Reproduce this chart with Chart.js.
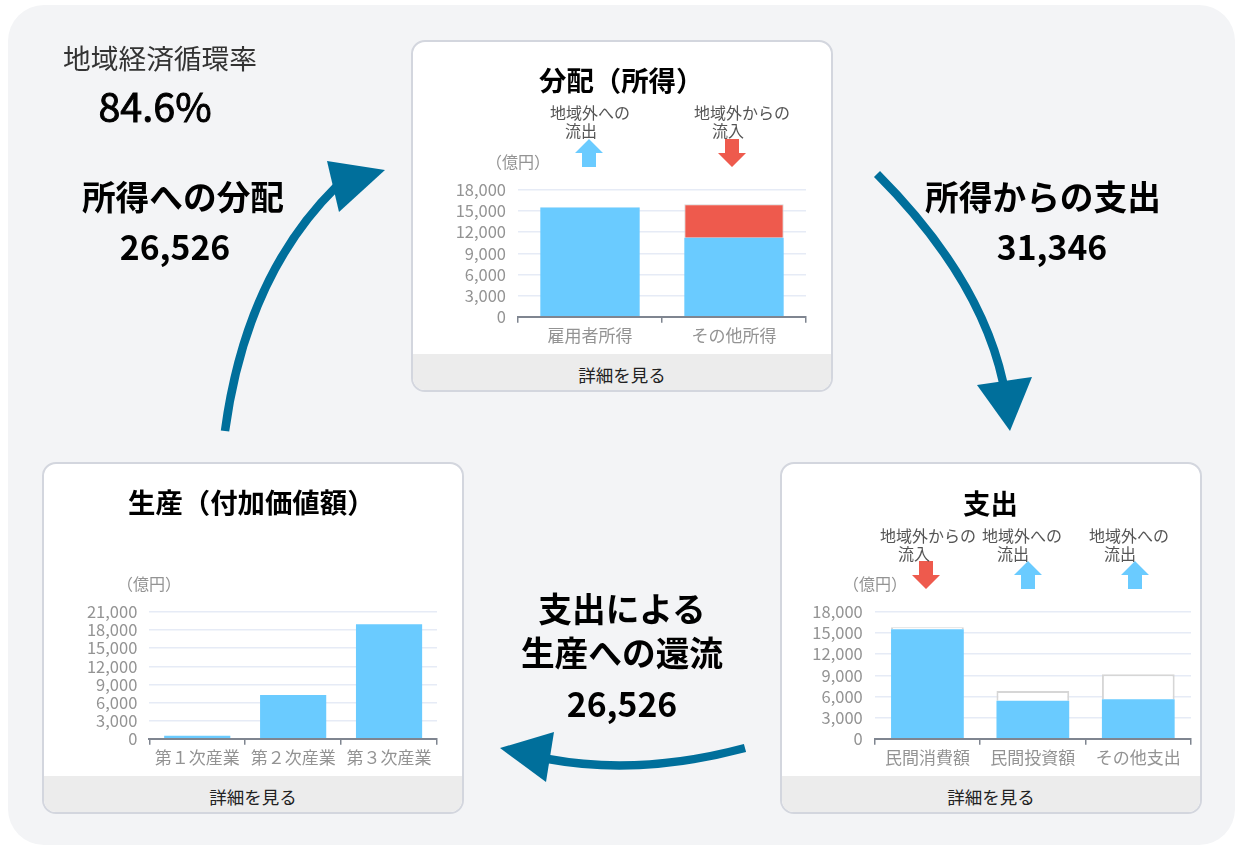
<!DOCTYPE html>
<html lang="ja">
<head>
    <meta charset="UTF-8">
    <title>地域経済循環</title>
    <script src="https://cdn.jsdelivr.net/npm/chart.js"></script>
    <style>
        body {
            margin: 0;
            width: 1235px;
            height: 845px;
            background: #fff;
            overflow: hidden;
            position: relative;
            font-family: "Noto Sans CJK JP", "Noto Sans", sans-serif;
        }
        .panel {
            position: absolute;
            left: 8px;
            top: 5px;
            width: 1227px;
            height: 840px;
            background: #f3f4f6;
            border-radius: 36px;
        }
        .card {
            position: absolute;
            box-sizing: border-box;
            background: #fff;
            border: 2.5px solid #d3d6de;
            border-radius: 14px;
            overflow: hidden;
        }
        .card .more {
            position: absolute;
            left: 0;
            right: 0;
            bottom: 0;
            height: 36px;
            background: #ececec;
            text-align: center;
            font-size: 17.5px;
            line-height: 41px;
            color: #222;
        }
        canvas { position: absolute; }
        svg { position: absolute; left: 0; top: 0; }
        .t {
            position: absolute;
            white-space: nowrap;
            line-height: 1;
            transform: translate(-50%, -50%);
        }
        .big { font-size: 33.7px; font-weight: 700; color: #000; }
        .title { font-size: 27.4px; font-weight: 700; color: #000; transform: translate(0, -50%); }
        .note { font-size: 16px; line-height: 17.5px; color: #555; transform: none; }
        .note span { display: block; }
        .unit { font-size: 16px; color: #939393; }
    </style>
</head>
<body>
    <div class="panel"></div>

    <div class="card" style="left:411px;top:40px;width:422px;height:352px"><div class="more">詳細を見る</div></div>
    <div class="card" style="left:780px;top:462px;width:422px;height:352px"><div class="more">詳細を見る</div></div>
    <div class="card" style="left:42px;top:462px;width:422px;height:352px"><div class="more">詳細を見る</div></div>

    <canvas id="incomeChart" width="390" height="174" style="left:430px;top:176px"></canvas>
    <canvas id="spendChart" width="405" height="176" style="left:790px;top:598px"></canvas>
    <canvas id="productionChart" width="390" height="176" style="left:60px;top:598px"></canvas>

    <svg width="1235" height="845">
        <!-- 循環の矢印 -->
        <g fill="none" stroke="#006f9b" stroke-width="8.5">
            <path d="M225,431 Q246,276 336,187"/>
            <path d="M877,174 Q980,277 1003,382"/>
            <path d="M745,748 Q640,776 548,759"/>
        </g>
        <g fill="#006f9b">
            <polygon points="385,170 327,161 339,212"/>
            <polygon points="1010,431 977,385 1032,377"/>
            <polygon points="500,748 554,732 546,782"/>
        </g>
        <!-- 流出入の矢印 -->
        <g fill="#6acbff">
            <polygon points="589,139 603,153 596,153 596,167 582,167 582,153 575,153"/>
            <polygon points="1028,561 1042,575 1035,575 1035,589 1021,589 1021,575 1014,575"/>
            <polygon points="1135,561 1149,575 1142,575 1142,589 1128,589 1128,575 1121,575"/>
        </g>
        <g fill="#ee5a4d">
            <polygon points="732,167 746,153 739,153 739,139 725,139 725,153 718,153"/>
            <polygon points="926,589 940,575 933,575 933,561 919,561 919,575 912,575"/>
        </g>
    </svg>

    <div class="t" style="left:160px;top:58px;font-size:27.7px;color:#333">地域経済循環率</div>
    <div class="t" style="left:155px;top:105px;font-size:39.5px;color:#000;-webkit-text-stroke:0.9px #000">84.6%</div>

    <div class="t big" style="left:183px;top:196px">所得への分配</div>
    <div class="t big" style="left:175px;top:246px">26,526</div>
    <div class="t big" style="left:1043px;top:196px">所得からの支出</div>
    <div class="t big" style="left:1052px;top:246px">31,346</div>
    <div class="t big" style="left:622px;top:608px">支出による</div>
    <div class="t big" style="left:622px;top:652px">生産への還流</div>
    <div class="t big" style="left:622px;top:703px">26,526</div>

    <div class="t title" style="left:539px;top:80px">分配（所得）</div>
    <div class="t title" style="left:963px;top:503px">支出</div>
    <div class="t title" style="left:128px;top:502px">生産（付加価値額）</div>

    <div class="t note" style="left:550px;top:104px">地域外への<span style="margin-left:15px">流出</span></div>
    <div class="t note" style="left:694px;top:104px">地域外からの<span style="margin-left:18px">流入</span></div>
    <div class="t note" style="left:880px;top:527px">地域外からの<span style="margin-left:18px">流入</span></div>
    <div class="t note" style="left:982px;top:527px">地域外への<span style="margin-left:15px">流出</span></div>
    <div class="t note" style="left:1089px;top:527px">地域外への<span style="margin-left:15px">流出</span></div>

    <div class="t unit" style="left:518px;top:161px">（億円）</div>
    <div class="t unit" style="left:875px;top:583px">（億円）</div>
    <div class="t unit" style="left:149px;top:583px">（億円）</div>

    <script>
        // 分配（所得）
        const incomeLabels = ['雇用者所得', 'その他所得'];
        const incomeBase = [15500, 11220];
        const incomeOut = [100, null];
        const incomeIn = [null, 4750];

        // 支出
        const spendLabels = ['民間消費額', '民間投資額', 'その他支出'];
        const spendBase = [15540, 5400, 5600];
        const spendOut = [290, 1380, 3550];

        // 生産（付加価値額）
        const productionLabels = ['第１次産業', '第２次産業', '第３次産業'];
        const productionValues = [500, 7240, 18960];

        const BLUE = '#6acbff';
        const RED = '#ee5a4d';
        const EDGE = '#d6d6d6';

        Chart.defaults.font.family = '"Noto Sans CJK JP", "Noto Sans", sans-serif';
        Chart.defaults.color = '#939393';

        function baseSet(data) {
            return { data: data, backgroundColor: BLUE, borderWidth: 0 };
        }
        function outSet(data) {
            return { data: data, backgroundColor: '#fff', borderColor: EDGE, borderWidth: 2 };
        }
        function inSet(data) {
            return { data: data, backgroundColor: RED, borderColor: EDGE, borderWidth: 1 };
        }

        function renderChart(id, labels, datasets, yMax, yWidth, xHeight, right) {
            const ctx = document.getElementById(id).getContext('2d');
            new Chart(ctx, {
                type: 'bar',
                data: { labels: labels, datasets: datasets },
                options: {
                    responsive: false,
                    animation: false,
                    datasets: { bar: { barPercentage: 0.69, categoryPercentage: 1 } },
                    layout: { autoPadding: false, padding: { top: 14, right: right, left: 0, bottom: 0 } },
                    plugins: { legend: { display: false }, tooltip: { enabled: false } },
                    scales: {
                        x: {
                            stacked: true,
                            afterFit: (scale) => { scale.height = xHeight; },
                            border: { color: '#7f8590', width: 2 },
                            grid: { drawOnChartArea: false, color: '#7f8590', tickLength: 6, lineWidth: 1.5 },
                            ticks: { padding: 3, maxRotation: 0, autoSkip: false, font: { size: 17 } }
                        },
                        y: {
                            stacked: true,
                            min: 0,
                            max: yMax,
                            // 目盛ラベル分の余白を消してプロットの上端を揃える
                            afterFit: (scale) => { scale.width = yWidth; scale.paddingTop = 0; },
                            border: { display: false },
                            grid: { color: '#e6ebf6', drawTicks: false, lineWidth: 1.5 },
                            ticks: { stepSize: 3000, padding: 12, autoSkip: false, font: { size: 16.5 } }
                        }
                    }
                }
            });
        }

        renderChart('incomeChart', incomeLabels, [baseSet(incomeBase), outSet(incomeOut), inSet(incomeIn)], 18000, 88, 33.3, 14);
        renderChart('spendChart', spendLabels, [baseSet(spendBase), outSet(spendOut)], 18000, 84.7, 35.3, 4);
        renderChart('productionChart', productionLabels, [baseSet(productionValues)], 21000, 89.3, 35.3, 13);
    </script>
</body>
</html>
